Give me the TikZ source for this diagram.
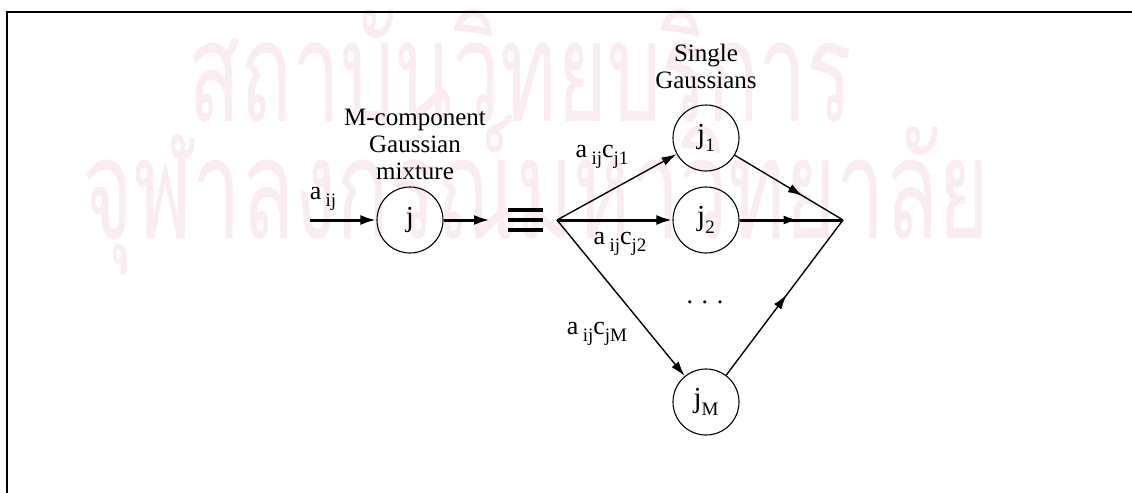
\documentclass[tikz,border=0pt]{standalone}
\usepackage{fontspec}
\setmainfont{Liberation Serif}
\newfontfamily\thaifont[Script=Thai]{Loma}
\usetikzlibrary{arrows.meta,decorations.markings}
\definecolor{wm}{RGB}{250,236,240}
\newcommand\lsub[1]{\raisebox{-0.6ex}{\fontsize{9.5}{9.5}\selectfont #1}}
\tikzset{
  gnode/.style={circle, draw, line width=0.55pt, minimum size=33pt, inner sep=0pt, font=\fontsize{14.5}{14.5}\selectfont},
  thickarrow/.style={line width=1.5pt, -{Latex[length=8pt,width=5pt]}},
  thinarrow/.style={line width=0.7pt, -{Latex[length=7.5pt,width=4.5pt]}},
  thinline/.style={line width=0.7pt},
  thickline/.style={line width=1.5pt},
  midarrow/.style={decoration={markings, mark=at position #1 with {\arrow{Latex[length=7.5pt,width=4.5pt]}}}, postaction={decorate}},
  lbl/.style={font=\fontsize{13}{13}\selectfont, inner sep=0pt},
  title/.style={font=\fontsize{12.5}{13.5}\selectfont, align=center, inner sep=0pt},
  wmtext/.style={text=wm, font=\thaifont\fontsize{70}{70}\selectfont, inner sep=0pt},
  frame/.style={line width=1.1pt},
  bar/.style={line width=2pt}
}
\begin{document}
\begin{tikzpicture}[x=0.5pt,y=-0.5pt]
\useasboundingbox (0,0) rectangle (1132,493);
% watermark
\node[wmtext, anchor=base west] (wm1) at (188,121) {\scalebox{0.61}[1]{สถาบันวิทยบริการ}};
\node[wmtext, anchor=base west] (wm2) at (82,238) {\scalebox{0.62}[1]{จุฬาลงกรณ์มหาวิทยาลัย}};
% frame
\draw[frame] (7,493) -- (7,12) -- (1132,12);
% nodes
\node[gnode] (j) at (410,220) {j};
\node[gnode] (j1) at (706,138) {j\lsub{1}};
\node[gnode] (j2) at (706,220) {j\lsub{2}};
\node[gnode] (jM) at (706,402) {j\lsub{M}};
\coordinate (in) at (310,220);
\coordinate (out) at (490,220);
\coordinate (F) at (557,220);
\coordinate (J) at (843,220);
% titles
\node[title] (t1) at (415,144) {M-component\\Gaussian\\mixture};
\node[title] (t2) at (706,66) {Single\\Gaussians};
\node[lbl] (dots) at (705,302) {. . .};
% equivalence bars
\draw[bar] (508,210) -- (543,210);
\draw[bar] (508,220) -- (543,220);
\draw[bar] (508,230) -- (543,230);
% connectors
\draw[thickarrow] (in) -- (j);
\draw[thickarrow] (j) -- (out);
\draw[thinarrow] (F) -- (j1);
\draw[thickarrow] (F) -- (j2);
\draw[thinarrow] (F) -- (jM);
\draw[thinline, midarrow=0.63] (j1) -- (J);
\draw[thickline, midarrow=0.57] (j2) -- (J);
\draw[thinline, midarrow=0.52] (jM) -- (J);
% labels
\node[lbl] (la) at (323,199) {a\,\lsub{ij}};
\node[lbl] (l1) at (602,157) {a\,\lsub{ij}c\lsub{j1}};
\node[lbl] (l2) at (620,244) {a\,\lsub{ij}c\lsub{j2}};
\node[lbl] (lM) at (597,334) {a\,\lsub{ij}c\lsub{jM}};
\end{tikzpicture}
\end{document}
